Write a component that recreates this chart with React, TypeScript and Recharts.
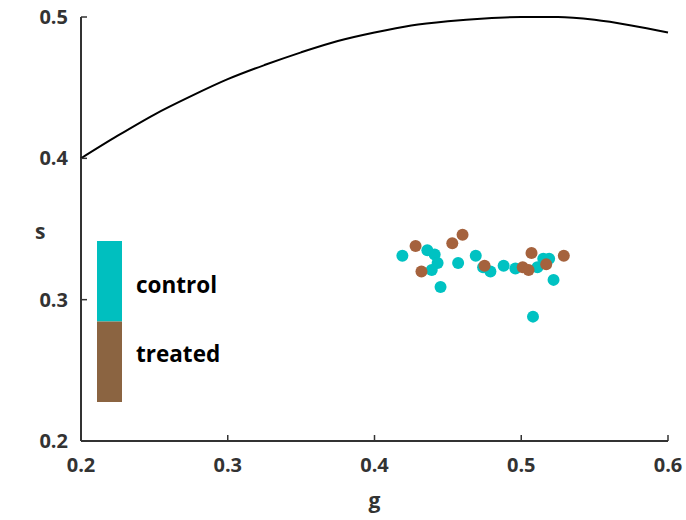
import { ScatterChart, Scatter, XAxis, YAxis, Legend } from 'recharts';

const xTicks = [0.2, 0.3, 0.4, 0.5, 0.6];
const yTicks = [0.2, 0.3, 0.4, 0.5];

// boundary curve
const curveG = [0.2, 0.225, 0.25, 0.275, 0.3, 0.325, 0.35, 0.375, 0.4, 0.425, 0.45, 0.475, 0.5, 0.525, 0.55, 0.575, 0.6];
const curveS = [0.4, 0.416, 0.431, 0.444, 0.456, 0.466, 0.475, 0.483, 0.489, 0.494, 0.497, 0.499, 0.5, 0.5, 0.498, 0.494, 0.489];

const controlG = [0.419, 0.436, 0.441, 0.443, 0.439, 0.445, 0.457, 0.469, 0.474, 0.479, 0.488, 0.496, 0.508, 0.511, 0.515, 0.519, 0.522];
const controlS = [0.331, 0.335, 0.332, 0.326, 0.321, 0.309, 0.326, 0.331, 0.323, 0.32, 0.324, 0.322, 0.288, 0.323, 0.329, 0.329, 0.314];

const treatedG = [0.428, 0.46, 0.453, 0.432, 0.475, 0.507, 0.501, 0.505, 0.517, 0.529];
const treatedS = [0.338, 0.346, 0.34, 0.32, 0.324, 0.333, 0.323, 0.321, 0.325, 0.331];

const legendItems = [
  { name: 'control', color: '#00BFBF' },
  { name: 'treated', color: '#8B6441' },
];

const curve = curveG.map((g, i) => ({ g, s: curveS[i] }));
const control = controlG.map((g, i) => ({ g, s: controlS[i] }));
const treated = treatedG.map((g, i) => ({ g, s: treatedS[i] }));

const FONT = '"Open Sans", sans-serif';
const AXIS = '#333';

const YTick = ({ x, y, payload }: any) => (
  <g>
    <line x1={x} x2={x + 6} y1={y} y2={y} stroke={AXIS} strokeWidth={1.5} />
    <text x={x - 13} y={y + 7} textAnchor="end" fontFamily={FONT} fontWeight={700} fontSize={20} fill={AXIS}>
      {payload.value.toFixed(1)}
    </text>
  </g>
);

const XTick = ({ x, y, payload }: any) => (
  <g>
    <line x1={x} x2={x} y1={y} y2={y - 6} stroke={AXIS} strokeWidth={1.5} />
    <text x={x} y={y + 31} textAnchor="middle" fontFamily={FONT} fontWeight={700} fontSize={20} fill={AXIS}>
      {payload.value.toFixed(1)}
    </text>
  </g>
);

const Dot = (color: string) => (props: any) => (
  <circle cx={props.cx} cy={props.cy} r={6} fill={color} />
);

const LegendBox = () => (
  <svg width={140} height={170} style={{ overflow: 'visible' }}>
    {legendItems.map((it, i) => (
      <g key={it.name}>
        <rect x={0} y={i * 80.5} width={25} height={80.5} fill={it.color} />
        <text x={39} y={52 + i * 69} fontFamily={FONT} fontWeight={700} fontSize={22.5} fill="#000">
          {it.name}
        </text>
      </g>
    ))}
  </svg>
);

export default function App() {
  return (
    <div style={{ position: 'absolute', left: 0, top: 0, width: 686, height: 520, background: '#fff' }}>
      <ScatterChart width={686} height={520} margin={{ top: 17, right: 18, bottom: 9, left: 21 }}>
        <XAxis
          type="number"
          dataKey="g"
          domain={[0.2, 0.6]}
          ticks={xTicks}
          height={70}
          tickSize={0}
          tickMargin={0}
          tick={<XTick />}
          axisLine={{ stroke: AXIS, strokeWidth: 2 }}
          label={{ value: 'g', position: 'insideBottom', offset: 3, fontFamily: FONT, fontWeight: 700, fontSize: 21, fill: AXIS }}
        />
        <YAxis
          type="number"
          dataKey="s"
          domain={[0.2, 0.5]}
          ticks={yTicks}
          width={60}
          tickSize={0}
          tickMargin={0}
          tick={<YTick />}
          axisLine={{ stroke: AXIS, strokeWidth: 2 }}
          label={{ value: 's', position: 'insideLeft', offset: 14, dy: 3, fontFamily: FONT, fontWeight: 700, fontSize: 21, fill: AXIS }}
        />
        <Legend
          layout="vertical"
          align="center"
          verticalAlign="middle"
          content={<LegendBox />}
          wrapperStyle={{ left: 97, top: 241, width: 140, height: 170 }}
        />
        <Scatter
          name="curve"
          data={curve}
          line={{ stroke: '#000', strokeWidth: 2 }}
          lineType="joint"
          lineJointType="monotoneX"
          shape={() => <g />}
          isAnimationActive={false}
          legendType="none"
        />
        <Scatter name="control" data={control} shape={Dot('#00C2C2')} isAnimationActive={false} />
        <Scatter name="treated" data={treated} shape={Dot('#A5623D')} isAnimationActive={false} />
      </ScatterChart>
    </div>
  );
}
